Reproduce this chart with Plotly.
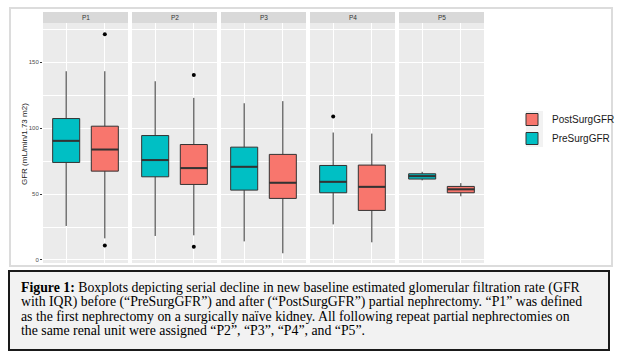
import plotly.graph_objects as go

W, H = 624, 357

panels = ["P1", "P2", "P3", "P4", "P5"]
groups = ["PreSurgGFR", "PostSurgGFR"]

pre_lo = [25.8, 18.2, 14.1, 27.0, 60.4]
pre_q1 = [74.0, 63.1, 53.0, 51.0, 61.4]
pre_med = [90.4, 75.8, 70.7, 59.3, 63.6]
pre_q3 = [107.3, 94.4, 85.6, 71.7, 65.4]
pre_hi = [143.2, 135.6, 118.9, 96.7, 66.9]
pre_out = [[], [], [], [108.8], []]

post_lo = [16.4, 18.7, 5.1, 13.4, 48.3]
post_q1 = [67.4, 57.3, 46.7, 37.6, 51.0]
post_med = [83.8, 69.7, 58.6, 55.5, 53.6]
post_q3 = [101.5, 87.6, 80.1, 72.0, 55.8]
post_hi = [143.2, 123.0, 120.5, 95.9, 58.3]
post_out = [[171.2, 10.9], [140.4, 10.1], [], [], []]

y_ticks = [0, 50, 100, 150]
y_title = "GFR (mL/min/1.73 m2)"
caption_lines = [
    "<b>Figure 1:</b> Boxplots depicting serial decline in new baseline estimated glomerular filtration rate (GFR",
    "with IQR) before (\u201cPreSurgGFR\u201d) and after (\u201cPostSurgGFR\u201d) partial nephrectomy. \u201cP1\u201d was defined",
    "as the first nephrectomy on a surgically na\u00efve kidney. All following repeat partial nephrectomies on",
    "the same renal unit were assigned \u201cP2\u201d, \u201cP3\u201d, \u201cP4\u201d, and \u201cP5\u201d.",
]

colors = {"PreSurgGFR": "#00BFC4", "PostSurgGFR": "#F8766D"}
line_col = "#333333"
BW = 0.7


def px(x):
    return x / W


def py(y):
    return 1 - y / H


fig = go.Figure()

stats = {
    "PreSurgGFR": (pre_lo, pre_q1, pre_med, pre_q3, pre_hi, pre_out),
    "PostSurgGFR": (post_lo, post_q1, post_med, post_q3, post_hi, post_out),
}

for i, p in enumerate(panels):
    xa = "x" if i == 0 else f"x{i+1}"
    ya = "y" if i == 0 else f"y{i+1}"
    for gi, g in enumerate(groups):
        lo, q1, med, q3, hi, out = stats[g]
        xc = gi + 1
        fig.add_trace(go.Box(
            x=[xc], q1=[q1[i]], median=[med[i]], q3=[q3[i]],
            lowerfence=[lo[i]], upperfence=[hi[i]],
            name=g, legendgroup=g, showlegend=(i == 0),
            legendrank=1 if g == "PostSurgGFR" else 2,
            fillcolor=colors[g], line=dict(color=line_col, width=1),
            whiskerwidth=0, boxpoints=False, width=BW,
            xaxis=xa, yaxis=ya, hoverinfo="skip",
        ))
        fig.add_trace(go.Scatter(
            x=[xc - BW / 2, xc + BW / 2], y=[med[i], med[i]], mode="lines",
            line=dict(color=line_col, width=2), showlegend=False,
            xaxis=xa, yaxis=ya, hoverinfo="skip",
        ))
        if out[i]:
            fig.add_trace(go.Scatter(
                x=[xc] * len(out[i]), y=out[i], mode="markers",
                marker=dict(color="black", size=4), showlegend=False,
                xaxis=xa, yaxis=ya, hoverinfo="skip",
            ))

top, bottom = 23, 263
ymin, ymax = -2.3, 179.8
shapes = []
annotations = []
layout = {}
for i, p in enumerate(panels):
    left = 43 + 89 * i
    right = left + 85
    xkey = "xaxis" if i == 0 else f"xaxis{i+1}"
    ykey = "yaxis" if i == 0 else f"yaxis{i+1}"
    ya = "y" if i == 0 else f"y{i+1}"
    xa = "x" if i == 0 else f"x{i+1}"
    layout[xkey] = dict(
        domain=[px(left), px(right)], anchor=ya, range=[0.4, 2.6],
        tickvals=[1, 2], showticklabels=False, ticks="",
        showgrid=True, gridcolor="white", gridwidth=1, zeroline=False,
        showline=False,
    )
    layout[ykey] = dict(
        domain=[py(bottom), py(top)], anchor=xa, range=[ymin, ymax],
        tickvals=y_ticks, showticklabels=(i == 0),
        ticks="outside" if i == 0 else "", ticklen=2, tickcolor=line_col,
        tickfont=dict(size=6, color="#4d4d4d"),
        showgrid=True, gridcolor="white", gridwidth=1, zeroline=False,
        minor=dict(tickvals=[25, 75, 125, 175], showgrid=True,
                   gridcolor="white", gridwidth=0.5, ticks=""),
        showline=False,
    )
    if i > 0:
        layout[ykey]["matches"] = "y"
    shapes.append(dict(type="rect", xref="paper", yref="paper",
                       x0=px(left), x1=px(right), y0=py(23), y1=py(12),
                       fillcolor="#d9d9d9", line=dict(width=0), layer="below"))
    annotations.append(dict(text=p, xref="paper", yref="paper",
                            x=px((left + right) / 2), y=py(17.5),
                            showarrow=False, font=dict(size=6.5, color="#333333"),
                            xanchor="center", yanchor="middle"))

# outer chart frame
shapes.append(dict(type="rect", xref="paper", yref="paper",
                   x0=px(10), x1=px(612), y0=py(266), y1=py(8),
                   line=dict(color="#dcdcdc", width=2), fillcolor="rgba(0,0,0,0)",
                   layer="below"))
# legend key backgrounds
for yk in (111, 129):
    shapes.append(dict(type="rect", xref="paper", yref="paper",
                       x0=px(526), x1=px(543), y0=py(yk + 18), y1=py(yk),
                       fillcolor="#f2f2f2", line=dict(width=0), layer="below"))
# caption box
shapes.append(dict(type="rect", xref="paper", yref="paper",
                   x0=px(9), x1=px(609), y0=py(350), y1=py(271),
                   fillcolor="#f2f2f2", line=dict(color="#1a1a1a", width=2)))

annotations.append(dict(text=y_title, xref="paper", yref="paper",
                        x=px(24), y=py(144), textangle=-90, showarrow=False,
                        font=dict(size=8, color="#1a1a1a"),
                        xanchor="center", yanchor="middle"))

for k, t in enumerate(caption_lines):
    annotations.append(dict(text=t, xref="paper", yref="paper",
                            x=px(19), y=py(288 + 14.3 * k), showarrow=False,
                            font=dict(size=13.8, color="black",
                                      family="Liberation Serif"),
                            xanchor="left", yanchor="middle", align="left"))

fig.update_layout(
    width=W, height=H,
    margin=dict(l=0, r=0, t=0, b=0),
    paper_bgcolor="white", plot_bgcolor="#ebebeb",
    font=dict(family="Liberation Sans, Arial, sans-serif"),
    shapes=shapes, annotations=annotations,
    legend=dict(x=px(512), y=py(129), xanchor="left", yanchor="middle",
                font=dict(size=10, color="#1a1a1a"), itemwidth=30,
                bgcolor="rgba(0,0,0,0)", tracegroupgap=0),
    boxmode="overlay",
    **layout,
)

fig.write_html("out.html", config={"displayModeBar": False},
               post_script="document.body.style.margin='0';document.body.style.overflow='hidden';")
